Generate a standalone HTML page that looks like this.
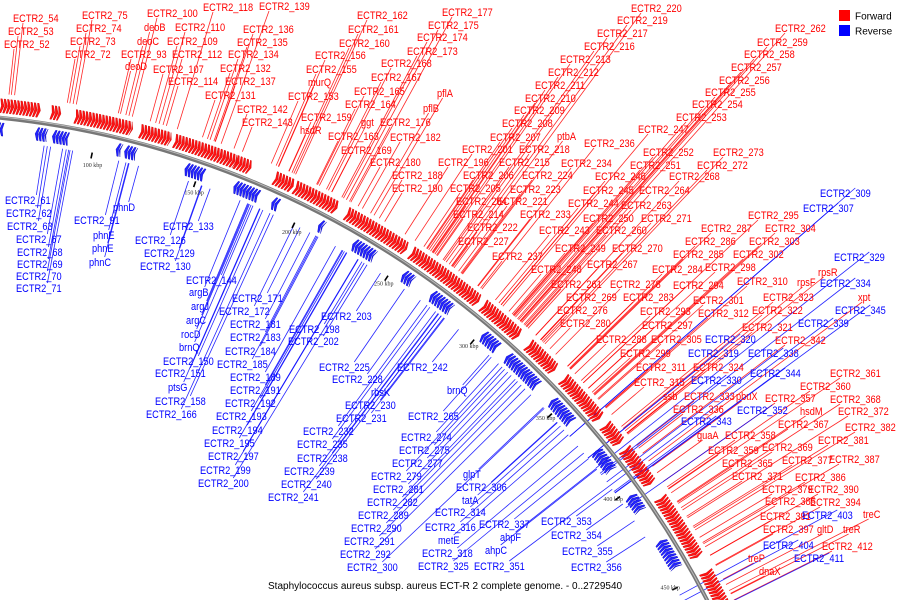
<!DOCTYPE html>
<html><head><meta charset="utf-8"><title>Genome map</title>
<style>
html,body{margin:0;padding:0;background:#fff;width:900px;height:600px;overflow:hidden;}
svg{display:block;font-family:"Liberation Sans",sans-serif;overflow:hidden;}
</style></head>
<body>
<svg id="map" width="900" height="600" viewBox="0 0 900 600" xmlns="http://www.w3.org/2000/svg">
  <g id="lines"></g>
  <g id="feats"></g>
  <g id="backbone"></g>
  <g id="ticks"></g>
  <g id="labels"></g>
  <g>
    <rect x="839" y="10" width="11" height="11" fill="#f00"/>
    <text x="855" y="19.5" font-size="10" fill="#000">Forward</text>
    <rect x="839" y="25" width="11" height="11" fill="#00f"/>
    <text x="855" y="34.5" font-size="10" fill="#000">Reverse</text>
  </g>
  <text x="268" y="589" font-size="10" fill="#000">Staphylococcus aureus subsp. aureus ECT-R 2 complete genome. - 0..2729540</text>
</svg>
<script>
// ---- data ----
const tickKbp = [100,150,200,250,300,350,400,450];
const tickLabels = ["100 kbp","150 kbp","200 kbp","250 kbp","300 kbp","350 kbp","400 kbp","450 kbp"];
// forward (red) gene clusters: start kbp, end kbp
const fwdStart = [55,78,89,119,135,164,183,193,219,253,293,320,342,370,384,411,450];
const fwdEnd   = [73,82,115,133,164,171,192,214,250,290,314,336,366,380,403,442,469];
// reverse (blue) gene clusters
const revStart = [55,73,81,111,115,144,168,187,211,229,256,272,302,317,346,377,403,428];
const revEnd   = [58,78,88,113,120,153,180,190,213,240,261,283,311,336,359,388,411,442];
// label placement (name, x, y) - annotation layout
const redLabels = [
["ECTR2_54",13,18],["ECTR2_53",8,31],["ECTR2_52",4,44],
["ECTR2_75",82,15],["ECTR2_74",76,28],["ECTR2_73",70,41],["ECTR2_72",65,54],
["ECTR2_100",147,13],["deoB",144,27],["deoC",137,41],["ECTR2_93",121,54],["deoD",125,66],
["ECTR2_118",203,7],["ECTR2_139",259,6],
["ECTR2_110",175,27],["ECTR2_109",167,41],["ECTR2_112",172,54],["ECTR2_107",153,69],["ECTR2_114",168,81],
["ECTR2_136",243,29],["ECTR2_135",237,42],["ECTR2_134",228,54],["ECTR2_132",220,68],["ECTR2_137",225,81],["ECTR2_131",205,95],["ECTR2_142",237,109],["ECTR2_143",242,122],
["ECTR2_162",357,15],["ECTR2_161",348,29],["ECTR2_160",339,43],["ECTR2_156",315,55],["ECTR2_155",306,69],["murQ",308,82],["ECTR2_153",288,96],["ECTR2_159",301,117],["hsdR",300,130],
["ECTR2_168",381,63],["ECTR2_167",371,77],["ECTR2_165",354,91],["ECTR2_164",345,104],["ggt",361,122],["ECTR2_176",380,122],["ECTR2_163",328,136],["ECTR2_169",341,150],["ECTR2_182",390,137],["ECTR2_180",370,162],["ECTR2_188",392,175],["ECTR2_190",392,188],
["ECTR2_177",442,12],["ECTR2_175",428,25],["ECTR2_174",417,37],["ECTR2_173",407,51],["pflA",437,93],["pflB",423,108],
["ECTR2_220",631,8],["ECTR2_219",617,20],["ECTR2_217",597,33],["ECTR2_216",584,46],["ECTR2_213",560,59],["ECTR2_212",548,72],["ECTR2_211",535,85],["ECTR2_210",525,98],["ECTR2_209",514,110],["ECTR2_208",502,123],["ECTR2_207",490,137],["ECTR2_201",462,149],["ECTR2_196",438,162],["ptbA",557,136],["ECTR2_236",584,143],["ECTR2_218",519,149],["ECTR2_215",499,162],["ECTR2_234",561,163],["ECTR2_206",463,175],["ECTR2_224",522,175],["ECTR2_205",450,188],["ECTR2_223",510,189],
["ECTR2_262",775,28],["ECTR2_259",757,42],["ECTR2_258",744,54],["ECTR2_257",731,67],["ECTR2_256",719,80],["ECTR2_255",705,92],["ECTR2_254",692,104],["ECTR2_253",676,117],["ECTR2_247",638,129],["ECTR2_252",643,152],["ECTR2_273",713,152],["ECTR2_251",630,165],["ECTR2_272",697,165],["ECTR2_246",595,176],["ECTR2_268",669,176],["ECTR2_245",583,190],["ECTR2_264",639,190],
["ECTR2_204",456,201],["ECTR2_221",497,201],["ECTR2_244",568,203],["ECTR2_263",621,205],["ECTR2_214",453,214],["ECTR2_233",520,214],["ECTR2_250",583,218],["ECTR2_271",641,218],["ECTR2_222",467,227],["ECTR2_243",539,230],["ECTR2_260",596,230],["ECTR2_227",458,241],["ECTR2_249",555,248],["ECTR2_270",612,248],["ECTR2_237",492,256],["ECTR2_267",587,264],["ECTR2_248",531,269],["ECTR2_284",652,269],["ECTR2_261",551,284],["ECTR2_278",610,284],["ECTR2_269",566,297],["ECTR2_283",623,297],["ECTR2_301",693,300],["ECTR2_276",557,310],["ECTR2_293",640,311],["ECTR2_312",698,313],["ECTR2_280",560,323],["ECTR2_297",642,325],["ECTR2_288",596,339],["ECTR2_305",651,339],["ECTR2_299",620,353],["ECTR2_311",636,367],["ECTR2_324",693,367],["ECTR2_315",634,382],
["ECTR2_295",748,215],["ECTR2_304",765,228],["ECTR2_287",701,228],["ECTR2_286",685,241],["ECTR2_303",749,241],["ECTR2_285",673,254],["ECTR2_302",733,254],["ECTR2_298",705,267],["ECTR2_294",673,285],["ECTR2_310",737,281],["rpsR",818,272],["rpsF",797,282],["xpt",858,297],["ECTR2_323",763,297],["ECTR2_322",752,310],["ECTR2_321",742,327],["ECTR2_342",775,340],
["ssb",663,396],["ECTR2_333",684,396],["pbuX",736,396],["ECTR2_336",673,409],["guaA",697,435],["ECTR2_358",725,435],["ECTR2_361",830,373],["ECTR2_360",800,386],["ECTR2_357",765,398],["ECTR2_368",830,399],["hsdM",800,411],["ECTR2_372",838,411],["ECTR2_367",778,424],["ECTR2_382",845,427],["ECTR2_381",818,440],["ECTR2_369",762,447],["ECTR2_359",708,450],["ECTR2_387",829,459],["ECTR2_377",782,460],["ECTR2_365",722,463],["ECTR2_371",732,476],["ECTR2_386",795,477],["ECTR2_379",762,489],["ECTR2_390",808,489],["ECTR2_385",765,501],["ECTR2_394",810,502],["ECTR2_391",760,516],["treC",863,514],["ECTR2_397",763,529],["gltD",817,529],["treR",843,529],["ECTR2_412",822,546],["treP",748,558],["dnaX",759,571]
];
const blueLabels = [
["ECTR2_61",5,200],["ECTR2_62",6,213],["ECTR2_63",7,226],["ECTR2_67",16,239],["ECTR2_68",17,252],["ECTR2_69",17,264],["ECTR2_70",16,276],["ECTR2_71",16,288],
["phnD",113,207],["ECTR2_91",74,220],["phnE",93,235],["phnE",92,248],["phnC",89,262],
["ECTR2_133",163,226],["ECTR2_126",135,240],["ECTR2_129",144,253],["ECTR2_130",140,266],
["ECTR2_144",186,280],["argB",189,292],["argJ",191,306],["argC",186,320],["rocD",181,334],["brnQ",179,347],["ECTR2_150",163,361],["ECTR2_151",155,373],["ptsG",168,387],["ECTR2_158",155,401],["ECTR2_166",146,414],
["ECTR2_171",232,298],["ECTR2_172",219,311],["ECTR2_181",230,324],["ECTR2_183",230,337],["ECTR2_184",225,351],["ECTR2_185",217,364],["ECTR2_189",230,377],["ECTR2_191",230,390],["ECTR2_192",225,403],["ECTR2_193",216,416],["ECTR2_194",212,430],["ECTR2_195",204,443],["ECTR2_197",208,456],["ECTR2_199",200,470],["ECTR2_200",198,483],
["ECTR2_203",321,316],["ECTR2_198",289,329],["ECTR2_202",288,341],
["ECTR2_225",319,367],["ECTR2_228",332,379],["ECTR2_242",397,367],["rbsK",371,392],["brnQ",447,390],["ECTR2_230",345,405],["ECTR2_231",336,418],["ECTR2_265",408,416],["ECTR2_232",303,431],["ECTR2_235",297,444],["ECTR2_238",297,458],["ECTR2_239",284,471],["ECTR2_240",281,484],["ECTR2_241",268,497],
["ECTR2_274",401,437],["ECTR2_275",399,450],["ECTR2_277",392,463],["ECTR2_279",371,476],["glpT",463,474],["ECTR2_281",373,489],["ECTR2_306",456,487],["ECTR2_282",367,502],["tatA",462,500],["ECTR2_289",358,515],["ECTR2_314",435,512],["ECTR2_290",351,528],["ECTR2_316",425,527],["ECTR2_337",479,524],["ECTR2_353",541,521],["ECTR2_291",344,541],["metE",438,540],["ahpF",500,537],["ECTR2_354",551,535],["ECTR2_292",340,554],["ECTR2_318",422,553],["ahpC",485,550],["ECTR2_355",562,551],["ECTR2_300",347,567],["ECTR2_325",418,566],["ECTR2_351",474,566],["ECTR2_356",571,567],
["ECTR2_309",820,193],["ECTR2_307",803,208],["ECTR2_329",834,257],["ECTR2_334",820,283],["ECTR2_345",835,310],["ECTR2_339",798,323],["ECTR2_320",705,339],["ECTR2_319",688,353],["ECTR2_338",748,353],["ECTR2_344",750,373],["ECTR2_330",691,380],["ECTR2_352",737,410],["ECTR2_343",681,421],["ECTR2_403",802,515],["ECTR2_404",763,545],["ECTR2_411",794,558]
];

// ---- geometry ----
const NS="http://www.w3.org/2000/svg";
const CX=-92, CY=1012, R=899;
function ang(kbp){ return (12.1 + (kbp-100)*0.14) * Math.PI/180; }
function pt(kbp, r){ const a=ang(kbp); return [CX + r*Math.sin(a), CY - r*Math.cos(a)]; }
function mk(tag, attrs, parent){ const e=document.createElementNS(NS,tag); for(const k in attrs) e.setAttribute(k,attrs[k]); parent.appendChild(e); return e; }

// backbone arc
const bb=document.getElementById('backbone');
const a0=pt(40,R), a1=pt(480,R);
const arc=mk('path',{d:`M${a0[0]},${a0[1]} A${R},${R} 0 0 1 ${a1[0]},${a1[1]}`,fill:'none',stroke:'#777','stroke-width':4},bb);


const arc2=mk('path',{d:`M${a0[0]},${a0[1]-1} A${R},${R} 0 0 1 ${a1[0]},${a1[1]}`,fill:'none',stroke:'#bbb','stroke-width':1},bb);



// ticks
const tg=document.getElementById('ticks');
tickKbp.forEach((k,i)=>{
  const p1=pt(k,R-20), p2=pt(k,R-26);
  const t=mk('line',{x1:p1[0],y1:p1[1],x2:p2[0],y2:p2[1],stroke:'#000','stroke-width':1.6},tg);
  
  
  const lp=pt(k-3,R-36);
  const tx=mk('text',{x:lp[0],y:lp[1],'font-size':6,fill:'#333','font-family':'Liberation Serif, serif'},tg);
  tx.textContent=tickLabels[i];
  
  
});

// features (chevron-style arrows)
const fg=document.getElementById('feats');
function gene(s,e,r0,r1,fwd,color,dark){
  const rm=(r0+r1)/2;
  let d;
  if(fwd){
    const a=pt(s,r0), b=pt(e-0.5,r0), tip=pt(e+0.6,rm), c=pt(e-0.5,r1), f=pt(s,r1), notch=pt(s+0.6,rm);
    d=`M${a[0]},${a[1]} L${b[0]},${b[1]} L${tip[0]},${tip[1]} L${c[0]},${c[1]} L${f[0]},${f[1]} L${notch[0]},${notch[1]} Z`;
  } else {
    const a=pt(e,r0), b=pt(s+0.5,r0), tip=pt(s-0.6,rm), c=pt(s+0.5,r1), f=pt(e,r1), notch=pt(e-0.6,rm);
    d=`M${a[0]},${a[1]} L${b[0]},${b[1]} L${tip[0]},${tip[1]} L${c[0]},${c[1]} L${f[0]},${f[1]} L${notch[0]},${notch[1]} Z`;
  }
  return mk('path',{d:d,fill:color,stroke:dark,'stroke-width':0.4},fg);
}
fwdStart.forEach((s,i)=>{
  const e=fwdEnd[i];
  for(let k=s;k<e;k+=1.5){
    const g=gene(k,Math.min(k+1.2,e),R+19,R+5,true,'#f11','#c00');
    
    
  }
});
revStart.forEach((s,i)=>{
  const e=revEnd[i];
  for(let k=s;k<e;k+=1.5){
    const g=gene(k,Math.min(k+1.2,e),R-5,R-18,false,'#22f','#00b');
    
    
  }
});

// labels & leader lines
const lg=document.getElementById('labels'), lineG=document.getElementById('lines');
function place(list,color,fwd){
  list.forEach(l=>{
    const [name,x,y]=l;
    const w=name.length*5.6;
    const t=mk('text',{transform:`translate(${x},${y+4}) scale(0.84,1)`,'font-size':11,fill:color},lg);
    t.textContent=name;
    
    
    let ax,ay;
    if(fwd){ ax=x+Math.min(10,w*0.25); ay=y+5; } else { ax=x+w*0.7; ay=y-5; }
    const dx=ax-CX, dy=ay-CY, d=Math.hypot(dx,dy);
    const rr=fwd?R+24:R-22;
    const ex=CX+dx/d*rr, ey=CY+dy/d*rr;
    const ln=mk('line',{x1:ax,y1:ay,x2:ex,y2:ey,stroke:color,'stroke-width':0.8,'stroke-opacity':0.85},lineG);
    
    
  });
}
place(redLabels,'#f00',true);
place(blueLabels,'#00f',false);
</script>
</body></html>
